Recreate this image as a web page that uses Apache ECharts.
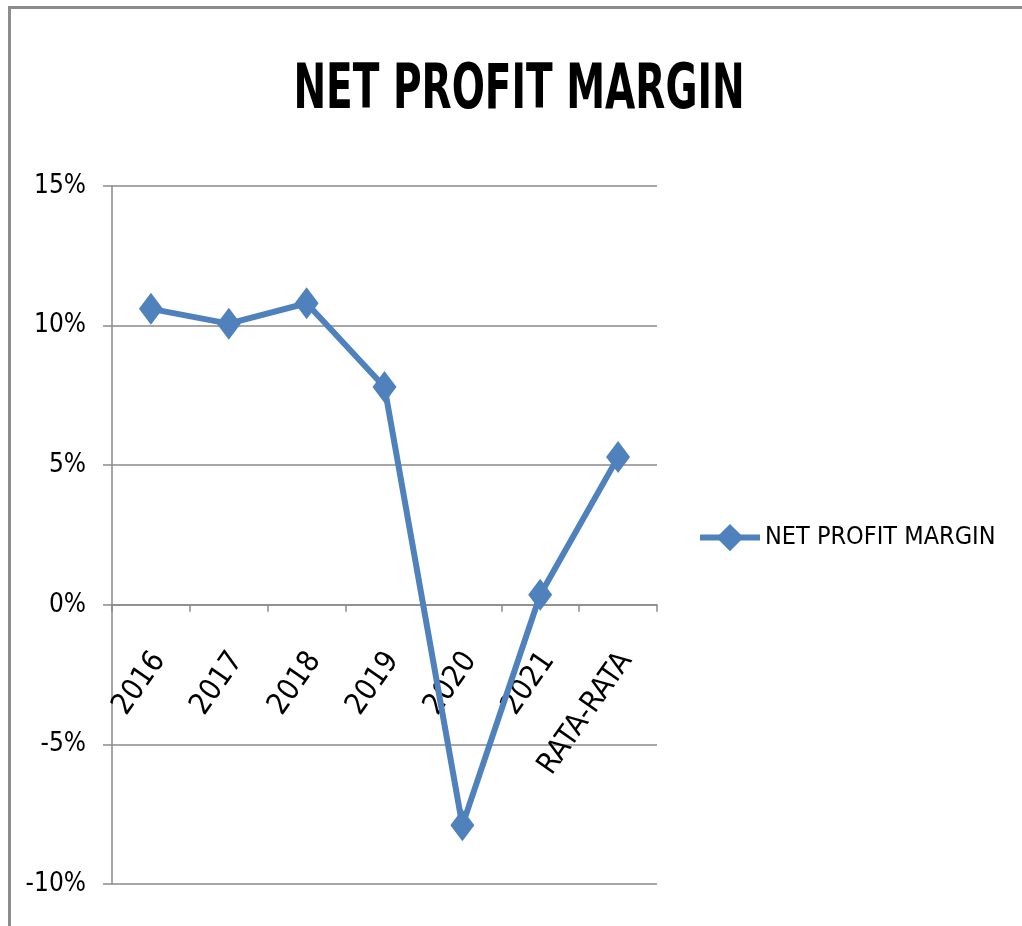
<!DOCTYPE html>
<html>
<head>
<meta charset="utf-8">
<script src="https://cdn.jsdelivr.net/npm/echarts@6/dist/echarts.min.js"></script>
<style>
  html, body { margin: 0; padding: 0; background: #fff; }
  #chart { width: 1022px; height: 926px; }
</style>
</head>
<body>
<div id="chart"></div>
<script>
// data
const categories = ["2016", "2017", "2018", "2019", "2020", "2021", "RATA-RATA"];
const npm = [10.6, 10.07, 10.8, 7.8, -7.9, 0.36, 5.29];
const yTicks = { min: -10, max: 15, step: 5 };

const FONT = "'DejaVu Sans Condensed', 'Liberation Sans Narrow', sans-serif";
const BLUE = "#4F81BD";
const GRID = "#8a8a8a";

const gridBox = { left: 112, right: 365, top: 186, bottom: 42 };
// the category axis sits on the 0% line, labels included
const plotH = 926 - gridBox.top - gridBox.bottom;
const zeroOffset = -plotH * (0 - yTicks.min) / (yTicks.max - yTicks.min);

const chart = echarts.init(document.getElementById("chart"));

chart.setOption({
  animation: false,
  backgroundColor: "#fff",
  legend: {
    left: 697,
    top: 524,
    padding: 0,
    itemWidth: 60,
    itemHeight: 34,
    lineStyle: { width: 6 },
    textStyle: { fontFamily: FONT, fontSize: 25, color: "#000" },
    data: ["NET PROFIT MARGIN"],
  },
  grid: Object.assign({ outerBoundsMode: "none", containLabel: false }, gridBox),
  xAxis: {
    type: "category",
    data: categories,
    boundaryGap: true,
    position: "bottom",
    offset: zeroOffset,
    axisLine: { onZero: false, lineStyle: { color: GRID, width: 1.5 } },
    axisTick: { show: true, length: 7, interval: 0, lineStyle: { color: GRID, width: 1.5 } },
    axisLabel: {
      interval: 0,
      rotate: 55,
      margin: 45,
      verticalAlign: "top",
      lineHeight: 20,
      fontFamily: FONT,
      fontSize: 30,
      color: "#000",
    },
  },
  yAxis: {
    type: "value",
    min: yTicks.min,
    max: yTicks.max,
    interval: yTicks.step,
    axisLine: { show: true, lineStyle: { color: GRID, width: 1.5 } },
    axisTick: { show: true, length: 9, lineStyle: { color: GRID, width: 1.5 } },
    axisLabel: {
      formatter: "{value}%",
      margin: 26,
      fontFamily: FONT,
      fontSize: 26,
      color: "#000",
    },
    splitLine: { lineStyle: { color: GRID, width: 1.5 } },
  },
  series: [
    {
      name: "NET PROFIT MARGIN",
      type: "line",
      data: npm,
      symbol: "diamond",
      symbolSize: [24, 32],
      lineStyle: { color: BLUE, width: 6 },
      itemStyle: { color: BLUE },
    },
  ],
  graphic: [
    {
      type: "rect",
      shape: { x: 9.5, y: 7.5, width: 1100, height: 1000 },
      style: { fill: null, stroke: "#8c8c8c", lineWidth: 3 },
      silent: true,
    },
    {
      // title, squeezed sideways like the original condensed face
      type: "text",
      x: 519,
      y: 92,
      scaleX: 0.7,
      style: {
        text: "NET PROFIT MARGIN",
        font: "bold 62px " + FONT,
        fill: "#000",
        align: "center",
        verticalAlign: "middle",
      },
    },
  ],
});
</script>
</body>
</html>
